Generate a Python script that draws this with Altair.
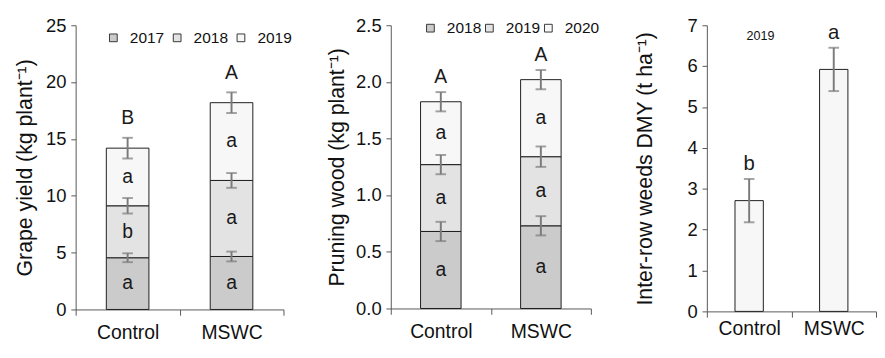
import altair as alt
import pandas as pd

FONT = "Liberation Sans"
treat = ["Control", "MSWC"]

# Panel 1: grape yield (kg plant-1), stacked by year
years_a = ["2017", "2018", "2019"]
yield_ctrl = [4.55, 4.57, 5.07]
yield_mswc = [4.66, 6.69, 6.84]
yield_err_ctrl = [0.39, 0.68, 0.91]
yield_err_mswc = [0.43, 0.65, 0.91]
yield_let_ctrl = ["a", "b", "a"]
yield_let_mswc = ["a", "a", "a"]
yield_total_let = ["B", "A"]

# Panel 2: pruning wood (kg plant-1), stacked by year
years_b = ["2018", "2019", "2020"]
wood_ctrl = [0.68, 0.59, 0.555]
wood_mswc = [0.73, 0.61, 0.68]
wood_err_ctrl = [0.085, 0.085, 0.085]
wood_err_mswc = [0.085, 0.09, 0.085]
wood_let_ctrl = ["a", "a", "a"]
wood_let_mswc = ["a", "a", "a"]
wood_total_let = ["A", "A"]

# Panel 3: inter-row weeds DMY (t ha-1), 2019
years_c = ["2019"]
weeds = [2.71, 5.92]
weeds_err = [0.53, 0.53]
weeds_let = ["b", "a"]

fills = ["#cbcbcb", "#e3e3e3", "#f7f7f7"]


def stack_table(years, series, errs, lets):
    rows = []
    for t, vals, es, ls in zip(treat, series, errs, lets):
        cum = 0.0
        for i, (yr, v, e, l) in enumerate(zip(years, vals, es, ls)):
            rows.append({"treatment": t, "year": yr, "start": cum, "end": cum + v,
                         "mid": cum + v / 2, "lo": cum + v - e, "hi": cum + v + e,
                         "letter": l, "top": i == len(years) - 1})
            cum += v
    return pd.DataFrame(rows)


def panel(df, years, tot_letters, fill_range, width, height, ymax, yvals, yfmt, ytitle,
          band, title_pad, leg_x, leg_y, leg_font, col_pad, lab_off, sym_size,
          top_dy, xlab_pad, show_seg_letters=True):
    xenc = alt.X("treatment:N", sort=treat,
                 scale=alt.Scale(domain=treat, paddingInner=0, paddingOuter=0),
                 axis=alt.Axis(title=None, tickBand="extent", labelAngle=0, labelFontSize=20,
                               tickSize=6, labelPadding=xlab_pad, domainColor="#555",
                               tickColor="#555"))
    yscale = alt.Scale(domain=[0, ymax], nice=False, zero=True)
    base = alt.Chart(df).encode(x=xenc)
    bars = base.mark_bar(width=alt.RelativeBandSize(band), stroke="#1a1a1a", strokeWidth=1).encode(
        y=alt.Y("start:Q", scale=yscale,
                axis=alt.Axis(values=yvals, format=yfmt, title=ytitle, titlePadding=title_pad,
                              tickSize=5, labelPadding=5, domainColor="#555", tickColor="#555")),
        y2="end:Q",
        color=alt.Color("year:N", scale=alt.Scale(domain=years, range=fill_range),
                        legend=alt.Legend(orient="none", legendX=leg_x, legendY=leg_y,
                                          direction="horizontal", title=None,
                                          symbolType="square", symbolSize=sym_size,
                                          symbolStrokeColor="#333", symbolStrokeWidth=1,
                                          labelFontSize=leg_font, labelFont=FONT,
                                          labelColor="#111", labelOffset=lab_off,
                                          columnPadding=col_pad, padding=0)),
    )
    err = base.mark_rule(color="#7a7a7a", strokeWidth=2).encode(y="lo:Q", y2="hi:Q")
    cap_lo = base.mark_tick(color="#7a7a7a", thickness=2, size=11).encode(y="lo:Q")
    cap_hi = base.mark_tick(color="#7a7a7a", thickness=2, size=11).encode(y="hi:Q")
    layers = [bars, err, cap_lo, cap_hi]
    if show_seg_letters:
        seg = base.mark_text(font=FONT, fontSize=20, color="#1a1a1a", baseline="middle").encode(
            y="mid:Q", text="letter:N")
        layers.append(seg)
        tops = df[df["top"]].copy()
        tops["tot"] = tot_letters
        toplab = alt.Chart(tops).mark_text(font=FONT, fontSize=20, color="#1a1a1a",
                                           baseline="middle", dy=top_dy).encode(
            x=xenc, y="hi:Q", text="tot:N")
        layers.append(toplab)
    else:
        toplab = base.mark_text(font=FONT, fontSize=21, color="#1a1a1a",
                                baseline="middle", dy=top_dy).encode(y="hi:Q", text="letter:N")
        layers.append(toplab)
    return alt.layer(*layers).properties(width=width, height=height)


df_a = stack_table(years_a, [yield_ctrl, yield_mswc], [yield_err_ctrl, yield_err_mswc],
                   [yield_let_ctrl, yield_let_mswc])
df_b = stack_table(years_b, [wood_ctrl, wood_mswc], [wood_err_ctrl, wood_err_mswc],
                   [wood_let_ctrl, wood_let_mswc])
df_c = stack_table(years_c, [[weeds[0]], [weeds[1]]], [[weeds_err[0]], [weeds_err[1]]],
                   [[weeds_let[0]], [weeds_let[1]]])

p1 = panel(df_a, years_a, yield_total_let, fills, 215, 294, 25, [0, 5, 10, 15, 20, 25], "d",
           "Grape yield (kg plant⁻¹)", 0.41, 10, 31, 5, 16, 5, 9, 64, -20, 8)
p2 = panel(df_b, years_b, wood_total_let, fills, 207, 293, 2.5, [0, 0.5, 1.0, 1.5, 2.0, 2.5], ".1f",
           "Pruning wood (kg plant⁻¹)", 0.405, 7, 33, -5, 16, 0, 9, 64, -15, 8)
p3 = panel(df_c, years_c, None, [fills[2]], 175, 296, 7, [0, 1, 2, 3, 4, 5, 6, 7], "d",
           "Inter-row weeds DMY (t ha⁻¹)", 0.335, 32, 28, 5, 13, 0, 0, 0, -15, 2,
           show_seg_letters=False)

chart = alt.hconcat(p1, p2, p3, spacing=35).resolve_scale(
    color="independent", y="independent", x="independent"
).resolve_legend(color="independent").properties(
    padding={"left": 5, "top": 3, "right": 0, "bottom": 0}
).configure_axis(
    labelFont=FONT, titleFont=FONT, labelFontSize=19, titleFontSize=22,
    titleFontWeight="normal", labelColor="#111", titleColor="#111", grid=False
).configure_view(stroke=None)

chart.save("out.html", embed_options={"renderer": "svg", "actions": False})
